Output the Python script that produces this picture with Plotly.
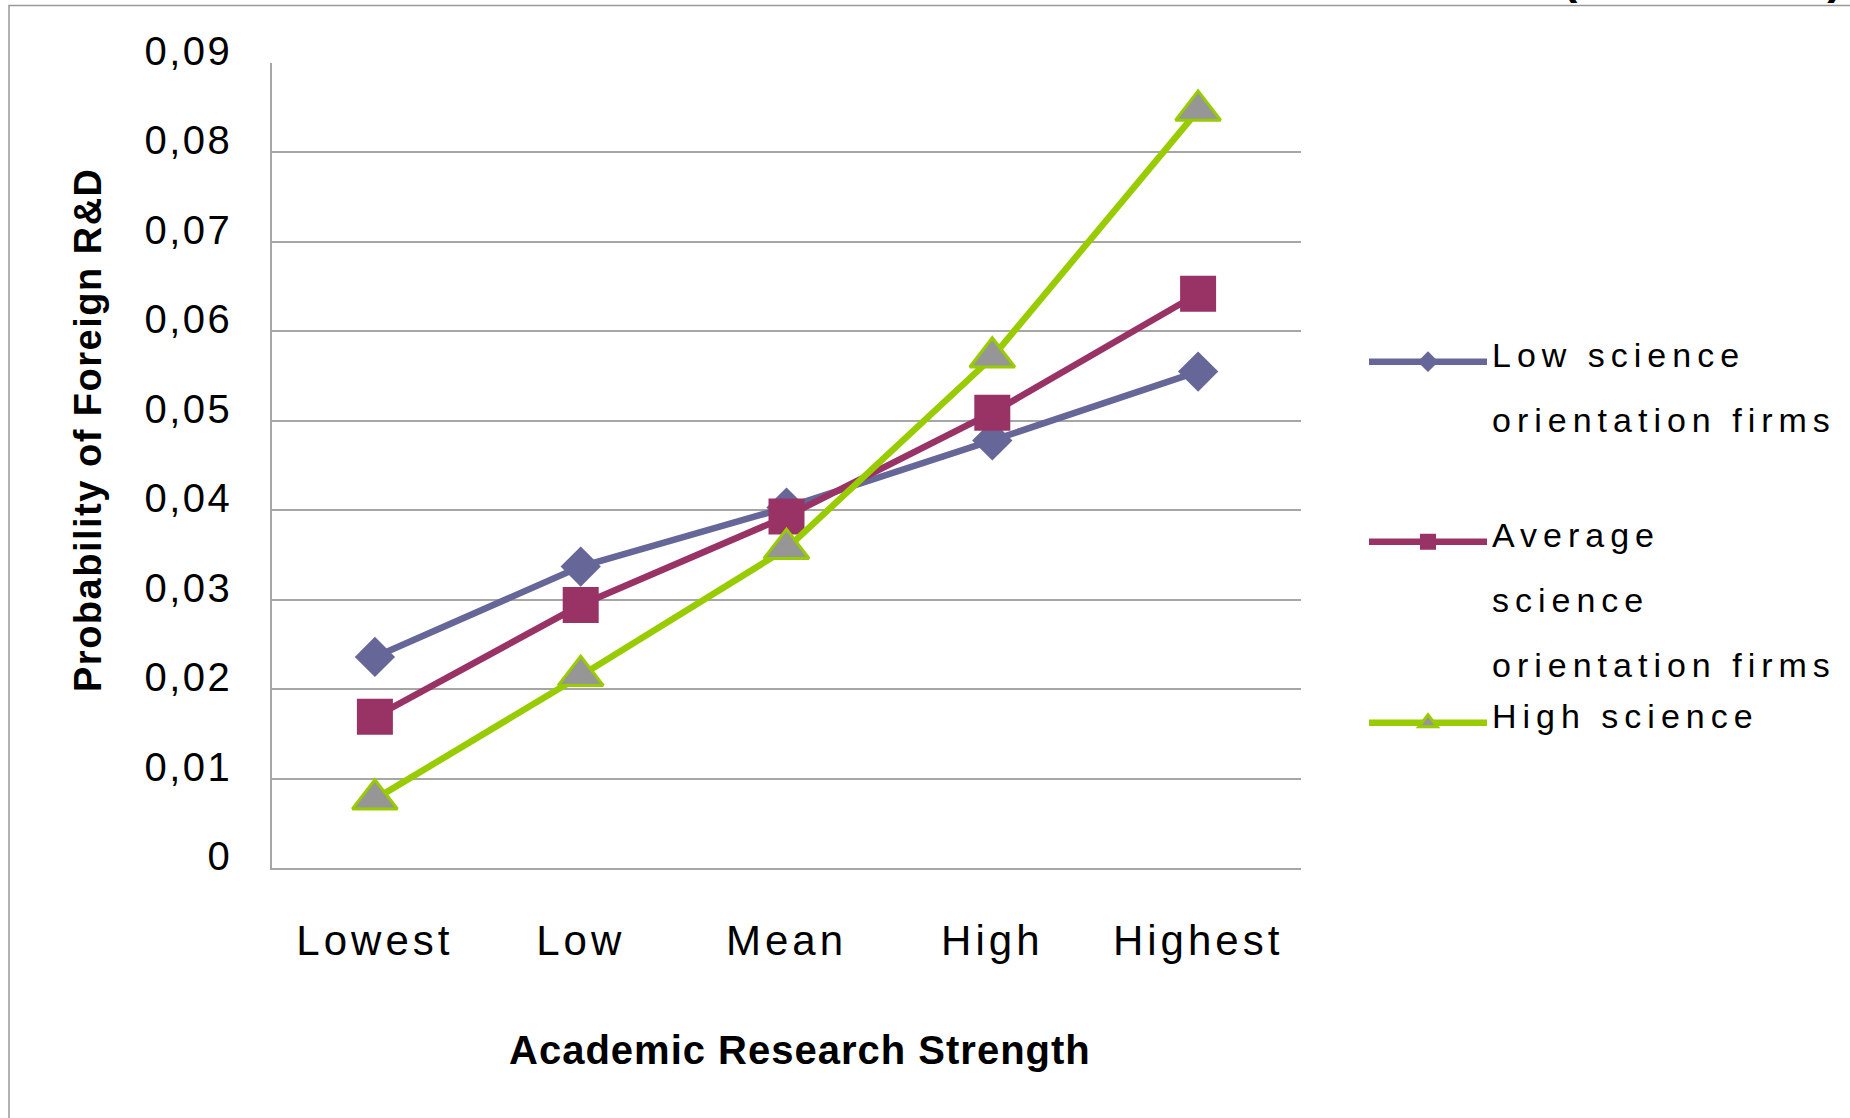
import plotly.graph_objects as go

# ---- data -------------------------------------------------------------
categories = ["Lowest", "Low", "Mean", "High", "Highest"]

low_science = [0.0236, 0.0337, 0.0403, 0.0478, 0.0555]
average_science = [0.0169, 0.0294, 0.0393, 0.0509, 0.0642]
high_science = [0.0077, 0.0215, 0.0357, 0.0571, 0.0847]

series_names = [
    ["Low science", "orientation firms"],
    ["Average", "science", "orientation firms"],
    ["High science"],
]

y_tick_values = [0, 0.01, 0.02, 0.03, 0.04, 0.05, 0.06, 0.07, 0.08, 0.09]
y_tick_labels = ["0", "0,01", "0,02", "0,03", "0,04", "0,05", "0,06", "0,07", "0,08", "0,09"]

x_title = "Academic Research Strength"
y_title = "Probability of Foreign R&D"
period_label = "(1985-2002)"

# ---- page geometry ----------------------------------------------------
W, H = 1850, 1118
M_L, M_R, M_T, M_B = 272, 549, 63, 250
PLOT_W = W - M_L - M_R
PLOT_H = H - M_T - M_B


def paper_x(px):
    return (px - M_L) / PLOT_W


def paper_y(py):
    return (H - M_B - py) / PLOT_H


def spaced(text, spacing, size=None, shift=None, bold=False):
    """Wrap each line of text in a span with letter spacing."""
    style = f"letter-spacing:{spacing}px"
    if size is not None:
        style += f";font-size:{size}px"
    if shift is not None:
        style += f";baseline-shift:{shift}px"
    lines = text if isinstance(text, list) else [text]
    out = []
    for line in lines:
        s = f'<span style="{style}">{line}</span>'
        if bold:
            s = f"<b>{s}</b>"
        out.append(s)
    return "<br>".join(out)


FONT = "Liberation Sans"
GRID = "#a6a6a6"

PURPLE = "#666699"
PLUM = "#993366"
LIME = "#99cc00"
GREY = "#969696"

LEGEND_TEXT = dict(spacing=6, size=34, shift=14)

fig = go.Figure()

fig.add_trace(go.Scatter(
    x=categories, y=low_science, mode="lines+markers",
    name=spaced(series_names[0], **LEGEND_TEXT),
    line=dict(color=PURPLE, width=6.5),
    marker=dict(symbol="diamond", size=31, color=PURPLE),
    legend="legend",
))
fig.add_trace(go.Scatter(
    x=categories, y=average_science, mode="lines+markers",
    name=spaced(series_names[1], **LEGEND_TEXT),
    line=dict(color=PLUM, width=6.5),
    marker=dict(symbol="square", size=36, color=PLUM),
    legend="legend2",
))
fig.add_trace(go.Scatter(
    x=categories, y=high_science, mode="lines+markers",
    name=spaced(series_names[2], **LEGEND_TEXT),
    line=dict(color=LIME, width=6.5),
    marker=dict(symbol="triangle-up", size=39, color=GREY,
                line=dict(color=LIME, width=3)),
    legend="legend3",
))

legend_common = dict(
    visible=True,
    xanchor="left", yanchor="top",
    bgcolor="rgba(0,0,0,0)", borderwidth=0,
    itemwidth=118, valign="top",
    font=dict(family=FONT, size=50, color="black"),
)

fig.update_layout(
    width=W, height=H,
    showlegend=True,
    margin=dict(l=M_L, r=M_R, t=M_T, b=M_B, autoexpand=False),
    paper_bgcolor="white", plot_bgcolor="white",
    font=dict(family=FONT, color="black"),
    legend=dict(x=paper_x(1364), y=paper_y(322.7), **legend_common),
    legend2=dict(x=paper_x(1364), y=paper_y(502.7), **legend_common),
    legend3=dict(x=paper_x(1364), y=paper_y(683.7), **legend_common),
    xaxis=dict(
        type="category", categoryorder="array", categoryarray=categories,
        range=[-0.5, len(categories) - 0.5],
        tickvals=categories,
        ticktext=[spaced(c, 4) for c in categories],
        tickfont=dict(family=FONT, size=42, color="black"),
        ticks="", ticklabelstandoff=35,
        showgrid=False, zeroline=False,
        showline=True, linecolor=GRID, linewidth=1.5,
    ),
    yaxis=dict(
        range=[0, 0.09],
        tickvals=y_tick_values, ticktext=[spaced(t, 2.5) for t in y_tick_labels],
        tickfont=dict(family=FONT, size=40, color="black"),
        ticks="", ticklabelstandoff=30, ticklabelshift=-12,
        showgrid=True, gridcolor=GRID, gridwidth=1.5,
        zeroline=False,
        showline=True, linecolor=GRID, linewidth=1.5,
    ),
    shapes=[dict(
        type="rect", xref="paper", yref="paper", layer="below",
        x0=paper_x(9), x1=paper_x(1950), y0=paper_y(1200), y1=paper_y(5.5),
        line=dict(color="#999999", width=1.5), fillcolor="rgba(0,0,0,0)",
    )],
    annotations=[
        # axis titles
        dict(
            text=spaced(x_title, 1, bold=True),
            xref="paper", yref="paper", x=paper_x(800), y=paper_y(1050),
            xanchor="center", yanchor="middle", showarrow=False,
            font=dict(family=FONT, size=40, color="black"),
        ),
        dict(
            text=spaced(y_title, 1.5, bold=True),
            xref="paper", yref="paper", x=paper_x(88), y=paper_y(430),
            xanchor="center", yanchor="middle", showarrow=False,
            textangle=-90,
            font=dict(family=FONT, size=38, color="black"),
        ),
        # period label along the top edge
        dict(
            text=spaced(period_label, 3, bold=True),
            xref="paper", yref="paper", x=paper_x(1848), y=paper_y(5),
            xanchor="right", yanchor="bottom", showarrow=False,
            font=dict(family=FONT, size=46, color="black"),
        ),
    ],
)

fig.write_html("out.html")
